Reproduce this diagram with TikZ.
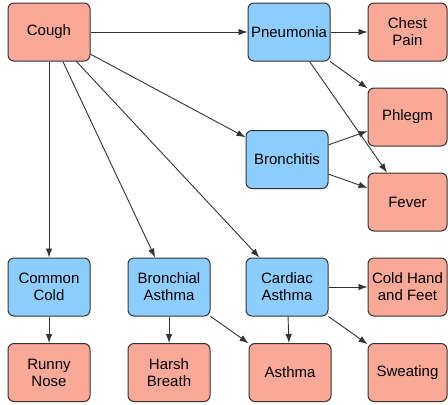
\documentclass[tikz,border=0pt]{standalone}
\usepackage{fontspec}
\setmainfont{Liberation Sans}
\usetikzlibrary{arrows.meta}
\definecolor{salmon}{RGB}{250,168,152}
\definecolor{skyb}{RGB}{142,206,255}
\definecolor{edgec}{RGB}{51,51,51}
\tikzset{
  box/.style={draw=edgec, line width=1pt, rounded corners=6pt, minimum width=82pt, minimum height=58pt, align=center, inner sep=2pt, font=\fontsize{15}{17}\selectfont},
  sym/.style={box, fill=salmon},
  dis/.style={box, fill=skyb},
  narrow/.style={minimum width=79pt},
  conn/.style={draw=edgec, line width=0.9pt, -{Latex[length=9pt,width=6.5pt]}}
}
\begin{document}
\begin{tikzpicture}[x=1pt,y=-1pt]
\useasboundingbox (0,0) rectangle (448,405);
\node[sym] (cough) at (49,32) {Cough};
\node[dis] (pneu) at (289,32) {Pneumonia};
\node[sym, narrow] (chest) at (407.5,32) {Chest\\Pain};
\node[sym, narrow] (phlegm) at (407.5,117) {Phlegm};
\node[dis] (bronchitis) at (287,159.5) {Bronchitis};
\node[sym, narrow] (fever) at (407.5,202) {Fever};
\node[dis] (cold) at (49,287) {Common\\Cold};
\node[dis] (basthma) at (169,287) {Bronchial\\Asthma};
\node[dis] (casthma) at (287,287) {Cardiac\\Asthma};
\node[sym, narrow] (coldhand) at (407.5,287) {Cold Hand\\and Feet};
\node[sym] (runny) at (49,372.5) {Runny\\Nose};
\node[sym] (harsh) at (169,372.5) {Harsh\\Breath};
\node[sym] (asthma) at (290,372.5) {Asthma};
\node[sym, narrow] (sweat) at (407.5,372.5) {Sweating};

\draw[conn] (cough) -- (pneu);
\draw[conn] (cough) -- (bronchitis);
\draw[conn] (cough) -- (cold);
\draw[conn] (cough) -- (basthma);
\draw[conn] (cough) -- (casthma);
\draw[conn] (pneu) -- (chest);
\draw[conn] (pneu) -- (phlegm);
\draw[conn] (pneu) -- (fever);
\draw[conn] (bronchitis) -- (phlegm);
\draw[conn] (bronchitis) -- (fever);
\draw[conn] (cold) -- (runny);
\draw[conn] (basthma) -- (harsh);
\draw[conn] (basthma) -- (asthma);
\draw[conn] (casthma) -- (coldhand);
\draw[conn] (casthma) -- (asthma);
\draw[conn] (casthma) -- (sweat);
\end{tikzpicture}
\end{document}
